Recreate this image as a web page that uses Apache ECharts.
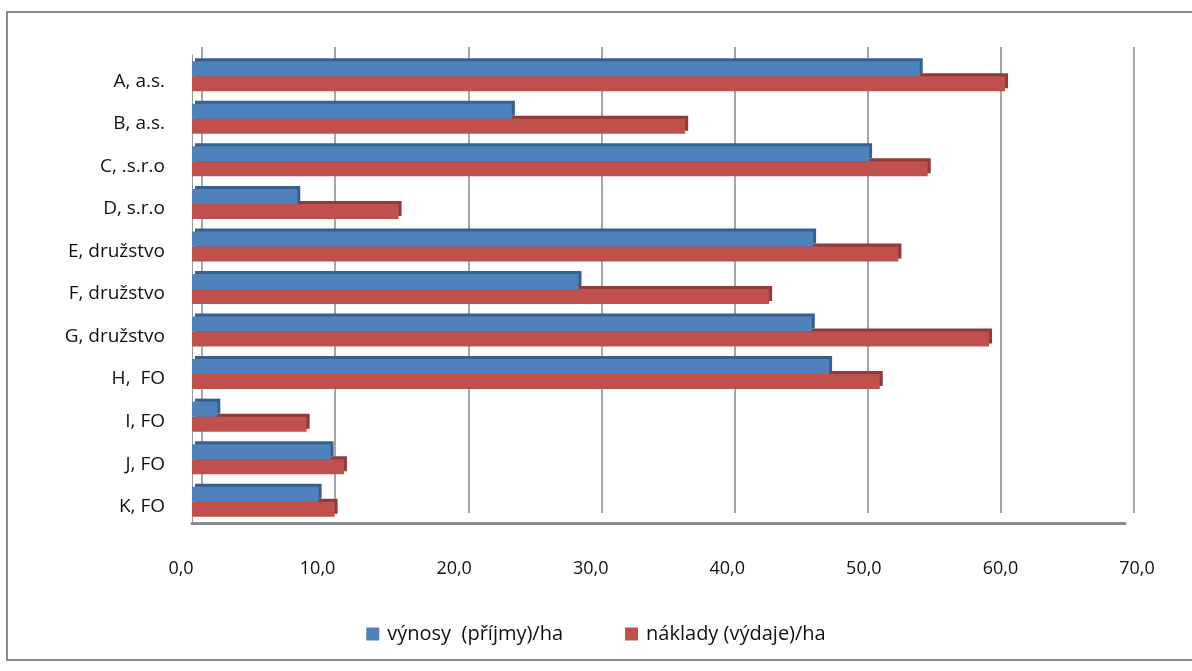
<!DOCTYPE html>
<html>
<head>
<meta charset="utf-8">
<script src="https://cdn.jsdelivr.net/npm/echarts@6/dist/echarts.min.js"></script>
<style>
html, body { margin: 0; padding: 0; background: #fff; }
#main { width: 1192px; height: 671px; }
</style>
</head>
<body>
<div id="main"></div>
<script>
var categories = ['A, a.s.', 'B, a.s.', 'C, .s.r.o', 'D, s.r.o', 'E, družstvo', 'F, družstvo', 'G, družstvo', 'H,  FO', 'I, FO', 'J, FO', 'K, FO'];
var vynosy = [54.6, 24.0, 50.8, 7.9, 46.6, 29.0, 46.5, 47.8, 1.9, 10.4, 9.5];
var naklady = [61.0, 37.0, 55.2, 15.5, 53.0, 43.3, 59.8, 51.6, 8.6, 11.4, 10.7];
var seriesNames = ['výnosy  (příjmy)/ha', 'náklady (výdaje)/ha'];

var font = 'Open Sans';

function fmt(v) {
	return v.toFixed(1).replace('.', ',');
}

echarts.init(document.getElementById('main')).setOption({
	animation: false,
	color: ['#4F81BD', '#C0504D'],
	textStyle: { fontFamily: font },
	graphic: [{
		type: 'rect',
		shape: { x: 7, y: 12, width: 1200, height: 648 },
		style: { fill: 'none', stroke: '#888', lineWidth: 2 },
		silent: true
	}],
	legend: {
		bottom: 22,
		left: 'center',
		itemWidth: 13,
		itemHeight: 13,
		itemGap: 62,
		icon: 'rect',
		textStyle: { fontSize: 20, color: '#111', fontFamily: font, padding: [0, 0, 0, 3] },
		data: seriesNames
	},
	grid: [
		// bars (front)
		{ left: 192, right: 67, top: 55, bottom: 148 },
		// back wall gridlines
		{ left: 202, right: 58, top: 47, bottom: 158 },
		// tick labels
		{ left: 181, right: 55, top: 55, bottom: 114 }
	],
	xAxis: [{
		gridIndex: 0, type: 'value', min: 0, max: 70, interval: 10,
		axisLine: { show: true, lineStyle: { color: '#8a8a8a', width: 3 } },
		axisTick: { show: false },
		axisLabel: { show: false },
		splitLine: { show: false }
	}, {
		gridIndex: 1, type: 'value', min: 0, max: 70, interval: 10,
		axisLine: { show: false },
		axisTick: { show: false },
		axisLabel: { show: false },
		splitLine: { show: true, lineStyle: { color: '#a6a6a6', width: 2 } }
	}, {
		gridIndex: 2, type: 'value', min: 0, max: 70, interval: 10,
		axisLine: { show: false },
		axisTick: { show: false },
		splitLine: { show: false },
		axisLabel: { margin: 3, fontSize: 18, color: '#111', formatter: fmt }
	}],
	yAxis: [{
		gridIndex: 0, type: 'category', data: categories, inverse: true,
		axisLine: { show: true, lineStyle: { color: '#9a9a9a', width: 1 } },
		axisTick: { show: false },
		axisLabel: { margin: 27, fontSize: 19, color: '#111', verticalAlign: 'top', lineHeight: 10 }
	}, {
		gridIndex: 1, type: 'value', show: false
	}, {
		gridIndex: 2, type: 'value', show: false
	}],
	series: [{
		name: seriesNames[0],
		type: 'bar',
		z: 3,
		barWidth: 15,
		barGap: '0%',
		data: vynosy,
		itemStyle: {
			color: '#4F81BD',
			shadowColor: '#37608f',
			shadowBlur: 0,
			shadowOffsetX: 3,
			shadowOffsetY: -3
		}
	}, {
		name: seriesNames[1],
		type: 'bar',
		z: 2,
		barWidth: 15,
		barGap: '0%',
		data: naklady,
		itemStyle: {
			color: '#C0504D',
			shadowColor: '#8f3b38',
			shadowBlur: 0,
			shadowOffsetX: 3,
			shadowOffsetY: -3
		}
	}]
});
</script>
</body>
</html>
